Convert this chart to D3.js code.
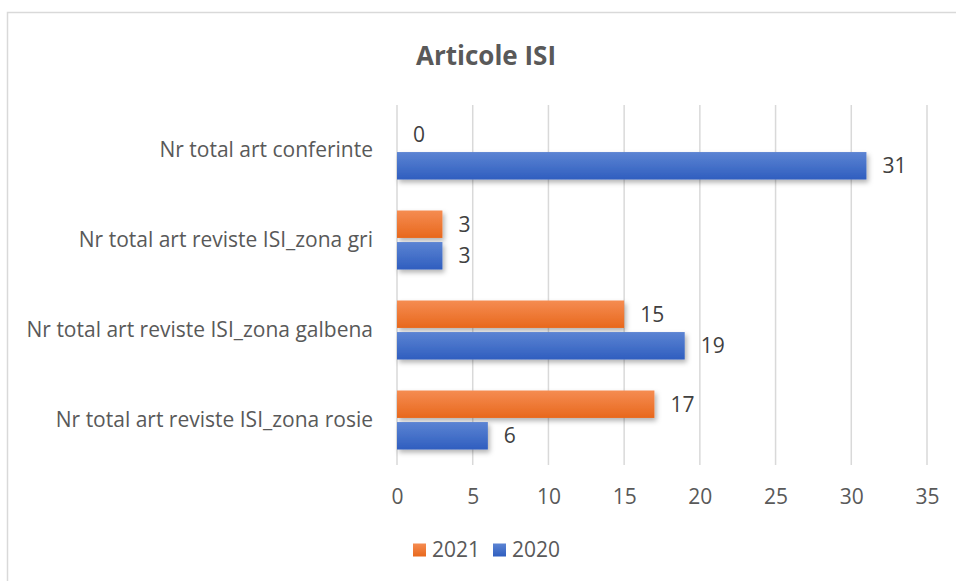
<!DOCTYPE html>
<html><head><meta charset="utf-8">
<script src="https://cdn.jsdelivr.net/npm/d3@7"></script>
<style>body{margin:0;background:#fff}svg{display:block}</style>
</head><body>
<script>
const categories = ["Nr total art conferinte","Nr total art reviste ISI_zona gri","Nr total art reviste ISI_zona galbena","Nr total art reviste ISI_zona rosie"];
const seriesNames = ["2021","2020"];
const values2021 = [0,3,15,17];
const values2020 = [31,3,19,6];
const xTicks = [0,5,10,15,20,25,30,35];
const title = "Articole ISI";

const W=956,H=581;
const font="'Open Sans', sans-serif";
const fs=21;
const svg=d3.select("body").append("svg").attr("width",W).attr("height",H);
const defs=svg.append("defs");
function grad(id,top,bot){const g=defs.append("linearGradient").attr("id",id).attr("x1",0).attr("y1",0).attr("x2",0).attr("y2",1);
 g.append("stop").attr("offset","0%").attr("stop-color",top);g.append("stop").attr("offset","100%").attr("stop-color",bot);}
grad("g2021","#F58C52","#E8681C");
grad("g2020","#5C84D3","#2F5EBF");
const f=defs.append("filter").attr("id","sh").attr("x","-10%").attr("y","-30%").attr("width","130%").attr("height","190%");
f.append("feDropShadow").attr("dx",2).attr("dy",3).attr("stdDeviation",2.5).attr("flood-color","#000").attr("flood-opacity",0.3);

// border
svg.append("path").attr("d",`M7.5,${H} L7.5,12.5 L${W},12.5`).attr("fill","none").attr("stroke","#d9d9d9").attr("stroke-width",1.5);

const x=d3.scaleLinear().domain([0,35]).range([397,927]);
const y=d3.scaleBand().domain(categories).range([105,465]);
const inner=d3.scaleBand().domain(seriesNames).range([15.5,74.5]).paddingInner(0.13);

// grid
svg.append("g").selectAll("line").data(xTicks).join("line")
 .attr("x1",d=>x(d)).attr("x2",d=>x(d)).attr("y1",105).attr("y2",465)
 .attr("stroke","#d9d9d9").attr("stroke-width",1.5);

const data=[];
categories.forEach((c,i)=>{data.push({c,s:"2021",v:values2021[i]});data.push({c,s:"2020",v:values2020[i]});});
const g=svg.append("g");
g.selectAll("rect").data(data.filter(d=>d.v>0)).join("rect")
 .attr("x",x(0)).attr("y",d=>y(d.c)+inner(d.s)).attr("width",d=>x(d.v)-x(0)).attr("height",inner.bandwidth())
 .attr("fill",d=>`url(#g${d.s})`).attr("filter","url(#sh)");
g.selectAll("text").data(data).join("text")
 .attr("x",d=>x(d.v)+16).attr("y",d=>y(d.c)+inner(d.s)+inner.bandwidth()/2).attr("dy","0.35em")
 .attr("font-family",font).attr("font-size",fs).attr("fill","#404040").text(d=>d.v);

// category labels
svg.append("g").selectAll("text").data(categories).join("text")
 .attr("x",373).attr("y",d=>y(d)+y.bandwidth()/2).attr("dy","0.35em").attr("text-anchor","end")
 .attr("font-family",font).attr("font-size",fs).attr("fill","#595959").text(d=>d);

// x axis
const ax=svg.append("g").attr("transform","translate(0,497)").call(d3.axisBottom(x).tickValues(xTicks).tickSize(0).tickPadding(0));
ax.select(".domain").remove();
ax.selectAll("text").attr("font-family",font).attr("font-size",fs).attr("fill","#595959").attr("dy","0.35em").attr("y",0);

// title
svg.append("text").attr("x",486).attr("y",65).attr("text-anchor","middle").attr("font-family",font).attr("font-weight","bold")
 .attr("font-size",26).attr("fill","#595959").text(title);

// legend
const lg=svg.append("g");
const leg=[{s:"2021",x:413},{s:"2020",x:493}];
leg.forEach(l=>{
 lg.append("rect").attr("x",l.x).attr("y",543.5).attr("width",13).attr("height",13).attr("fill",`url(#g${l.s})`);
 lg.append("text").attr("x",l.x+19).attr("y",550).attr("dy","0.35em").attr("font-family",font).attr("font-size",fs).attr("fill","#595959").text(l.s);
});
</script>
</body></html>
